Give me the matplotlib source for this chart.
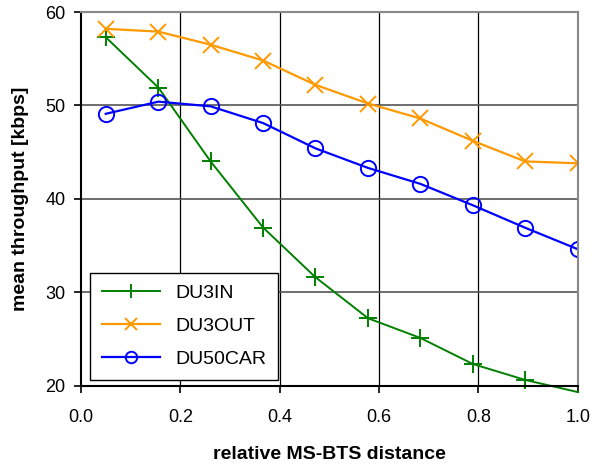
import numpy as np
import matplotlib
matplotlib.use("Agg")
import matplotlib.pyplot as plt

plt.rcParams['font.family'] = ['Liberation Sans', 'DejaVu Sans']

# values
distance = [0.05, 0.156, 0.261, 0.367, 0.472, 0.578, 0.683, 0.789, 0.894, 1.0]
du3in = [57.3, 51.9, 44.0, 36.9, 31.6, 27.2, 25.1, 22.3, 20.6, 19.3]
du3out = [58.2, 57.9, 56.5, 54.8, 52.2, 50.2, 48.6, 46.2, 44.0, 43.8]
du50car = [49.1, 50.4, 49.9, 48.1, 45.4, 43.3, 41.6, 39.3, 36.9, 34.6]

fig = plt.figure(figsize=(5.95, 4.71), dpi=100)
ax = fig.add_axes([0.136, 0.1815, 0.835, 0.793])

# last DU3IN point sits just under the axis: line runs past it, no marker
ax.plot(distance, du3in, color='#008000', lw=1.4, marker='+', ms=13, mew=1.4,
        markevery=slice(0, 9), clip_on=False, label='DU3IN')
ax.plot(distance, du3out, color='#FF9900', lw=1.6, marker='x', ms=11, mew=1.4, label='DU3OUT')
ax.plot(distance, du50car, color='#0000FF', lw=1.6, marker='o', ms=11, mew=1.4,
        mfc='none', label='DU50CAR')

ax.set_xlim(0, 1.0)
ax.set_ylim(20, 60)
ax.set_xticks(np.arange(0, 1.01, 0.2))
ax.set_xticklabels(['0.0', '0.2', '0.4', '0.6', '0.8', '1.0'])
ax.set_yticks([20, 30, 40, 50, 60])

for xv in [0.2, 0.4, 0.6, 0.8]:
    ax.axvline(xv, color='black', lw=0.9, zorder=0)
for yv in [30, 40, 50]:
    ax.axhline(yv, color='#555555', lw=1.2, zorder=0)

ax.spines['left'].set_color('black')
ax.spines['bottom'].set_color('black')
ax.spines['top'].set_color('#888888')
ax.spines['right'].set_color('#888888')
for s in ax.spines.values():
    s.set_linewidth(1.5)

ax.tick_params(direction='out', length=5, width=1.2, labelsize=13, pad=6)
ax.tick_params(axis='x', pad=12)
ax.set_xlabel('relative MS-BTS distance', fontsize=14, fontweight='bold', labelpad=14)
ax.set_ylabel('mean throughput [kbps]', fontsize=14, fontweight='bold', labelpad=12)

leg = ax.legend(loc='lower left', bbox_to_anchor=(0.018, 0.015), borderaxespad=0,
                fontsize=14, fancybox=False, edgecolor='black', framealpha=1,
                handlelength=3.0, borderpad=0.6, labelspacing=0.8, markerscale=0.75)
leg.get_frame().set_linewidth(1.0)

fig.savefig('out.png', dpi=100)
